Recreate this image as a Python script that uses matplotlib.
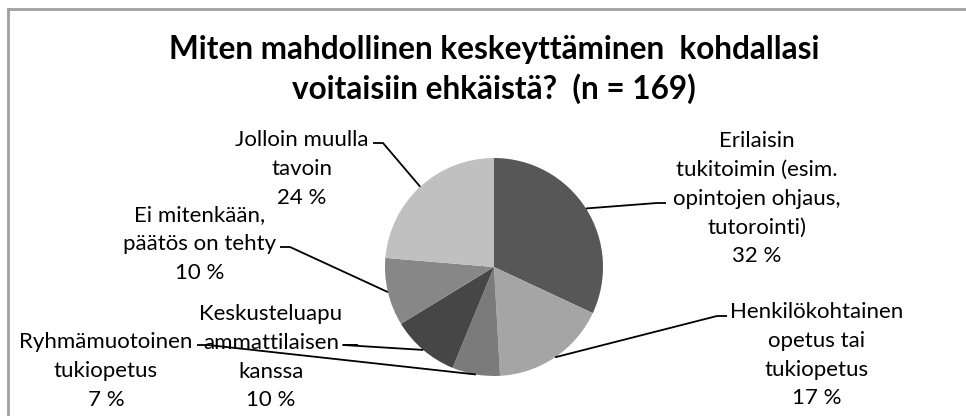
import matplotlib.pyplot as plt
import numpy as np

# Data (n = 169)
labels = ['Erilaisin\ntukitoimin (esim.\nopintojen ohjaus,\ntutorointi)',
          'Henkilökohtainen\nopetus tai\ntukiopetus',
          'Ryhmämuotoinen\ntukiopetus',
          'Keskusteluapu\nammattilaisen\nkanssa',
          'Ei mitenkään,\npäätös on tehty',
          'Jolloin muulla\ntavoin']
counts = [54, 29, 12, 17, 17, 40]
pct_labels = ['32 %', '17 %', '7 %', '10 %', '10 %', '24 %']
colors = ['#575757', '#a5a5a5', '#7b7b7b', '#464646', '#878787', '#c0c0c0']
title_lines = ['Miten mahdollinen keskeyttäminen  kohdallasi',
               'voitaisiin ehkäistä?  (n = 169)']

W, H = 966, 416
fig = plt.figure(figsize=(W / 100, H / 100), dpi=100)
ax = fig.add_axes([0, 0, 1, 1])

def Y(p):
    return H - p

cx, cy, r = 494, Y(267), 109
ax.pie(counts, colors=colors, startangle=90, counterclock=False,
       center=(cx, cy), radius=r, wedgeprops=dict(linewidth=0))
ax.set_xlim(0, W)
ax.set_ylim(0, H)
ax.set_aspect('equal')
ax.axis('off')

# label layout: text center x, first line center y, leader (text end, hook end)
layout = [
    (757, 139, (666, 203), (657, 203)),
    (817, 310, (727, 316), (717, 316)),
    (106, 340, (197, 345), (208, 345)),
    (271, 312, (358, 345), (343, 345)),
    (200, 213, (280, 247), (290, 247)),
    (302, 138, (373, 143), (383, 143)),
]
step = 28.8

fr = np.array(counts) / sum(counts)
mids = 360 * (np.cumsum(fr) - fr / 2)
font = 'Lato'
for i, (tx, ty, p0, p1) in enumerate(layout):
    lines = labels[i].split('\n') + [pct_labels[i]]
    for k, s in enumerate(lines):
        ax.text(tx, Y(ty + k * step), s, ha='center', va='center_baseline',
                fontsize=16, family=font, color='black')
    a = np.deg2rad(mids[i])
    ex, ey = cx + r * np.sin(a), cy + r * np.cos(a)
    ax.plot([p0[0], p1[0], ex], [Y(p0[1]), Y(p1[1]), ey], color='black', lw=1.3,
            solid_capstyle='butt')

# title
for k, s in enumerate(title_lines):
    ax.text(cx, Y(59 + k * 40), s, ha='center', va='baseline',
            fontsize=22.7, fontweight='bold', family=font)

# frame (left and top only visible)
ax.plot([8, 8], [0, Y(9)], color='#a0a0a0', lw=2)
ax.plot([8, W], [Y(9), Y(9)], color='#a0a0a0', lw=2)

fig.savefig('out.png', dpi=100)
